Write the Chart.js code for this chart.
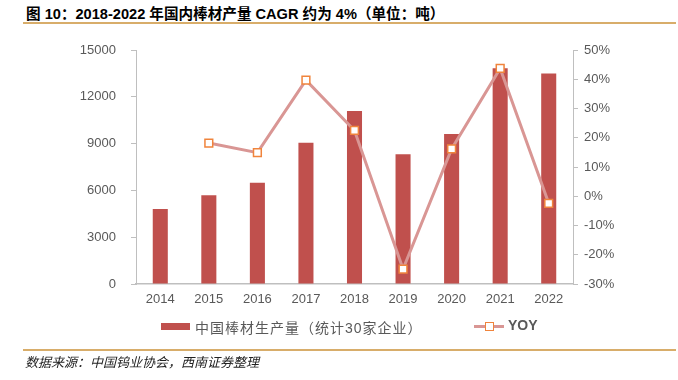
<!DOCTYPE html>
<html>
<head>
<meta charset="utf-8">
<script src="https://cdn.jsdelivr.net/npm/chart.js@4"></script>
<style>
    body { margin: 0; background: #fff; }
    #wrap { position: relative; width: 678px; height: 380px; overflow: hidden;
        font-family: "Liberation Sans", "Noto Sans CJK SC", sans-serif; }
    #chart { position: absolute; left: 0; top: 0; }
    .title { position: absolute; left: 26px; top: 2px; font-size: 14.6px; font-weight: bold;
        color: #000; white-space: nowrap; }
    .rule { position: absolute; left: 23px; width: 653px; height: 2px; background: #D8AD6A; }
    .source { position: absolute; left: 25px; top: 352px; font-size: 13px; font-style: italic;
        color: #222; font-family: "Noto Sans CJK SC", sans-serif; white-space: nowrap; }
    .legend { position: absolute; top: 317px; font-size: 14px; color: #595959; white-space: nowrap;
        font-family: "Liberation Sans", "Noto Sans CJK SC", sans-serif; }
    .swatch { position: absolute; }
</style>
</head>
<body>
<div id="wrap">
    <div class="title">图 10：2018-2022 年国内棒材产量 CAGR 约为 4%（单位：吨）</div>
    <div class="rule" style="top:22px"></div>
    <canvas id="chart" width="678" height="380"></canvas>
    <div id="legend"></div>
    <div class="rule" style="top:349px"></div>
    <div class="source">数据来源：中国钨业协会，西南证券整理</div>
</div>

<script>
const years = ["2014", "2015", "2016", "2017", "2018", "2019", "2020", "2021", "2022"];

const output = [4810, 5690, 6490, 9060, 11090, 8310, 9620, 13830, 13500];

const yoy = [null, 18.2, 14.9, 39.7, 22.5, -24.9, 16.2, 43.7, -2.4];

const outputLabel = "中国棒材生产量（统计30家企业）";
const yoyLabel = "YOY";

const barColor = "#C0504D";
const lineColor = "#D99694";
const markerColor = "#F0843C";
const axisColor = "#BFBFBF";
const textColor = "#595959";

const tickFont = { family: "Liberation Sans", size: 13 };

new Chart(
    document.getElementById("chart"),
    {
        data: {
            labels: years,
            datasets: [
                {
                    type: "line",
                    label: yoyLabel,
                    data: yoy,
                    yAxisID: "y1",
                    order: 0,
                    borderColor: lineColor,
                    borderWidth: 3,
                    tension: 0,
                    pointStyle: "rect",
                    pointRadius: 5.5,
                    pointBorderWidth: 1.5,
                    pointBackgroundColor: "#fff",
                    pointBorderColor: markerColor
                },
                {
                    type: "bar",
                    label: outputLabel,
                    data: output,
                    yAxisID: "y",
                    order: 1,
                    backgroundColor: barColor,
                    categoryPercentage: 1,
                    barPercentage: 0.31
                }
            ]
        },
        options: {
            responsive: false,
            animation: false,
            layout: { padding: { top: 50, right: 0, bottom: 0, left: 0 } },
            plugins: {
                legend: { display: false },
                tooltip: { enabled: false }
            },
            scales: {
                x: {
                    grid: { display: false, drawTicks: false },
                    border: { color: axisColor, width: 1.5 },
                    ticks: { color: textColor, font: tickFont, padding: 8 },
                    afterFit: scale => { scale.height = 96; }
                },
                y: {
                    position: "left",
                    min: 0,
                    max: 15000,
                    grid: { drawOnChartArea: false, tickLength: 5, color: axisColor },
                    border: { color: axisColor, width: 1 },
                    ticks: {
                        stepSize: 3000,
                        color: textColor,
                        font: tickFont,
                        padding: 15,
                        callback: v => String(v)
                    },
                    afterFit: scale => { scale.width = 136; }
                },
                y1: {
                    position: "right",
                    min: -30,
                    max: 50,
                    grid: { drawOnChartArea: false, tickLength: 5, color: axisColor },
                    border: { color: axisColor, width: 1 },
                    ticks: {
                        stepSize: 10,
                        color: textColor,
                        font: tickFont,
                        padding: 6,
                        callback: v => v + "%"
                    },
                    afterFit: scale => { scale.width = 105; }
                }
            }
        }
    }
);

// legend, built from the dataset labels and colours
const legend = document.getElementById("legend");
legend.innerHTML = `
    <div class="legend" style="left:161px">
        <span class="swatch" style="left:0;top:6px;width:29px;height:7px;background:${barColor}"></span>
        <span style="position:absolute;left:34px;top:0;letter-spacing:1px">${outputLabel}</span>
    </div>
    <div class="legend" style="left:474px">
        <span class="swatch" style="left:0;top:8px;width:30px;height:3px;background:${lineColor}"></span>
        <span class="swatch" style="left:11px;top:5px;width:7px;height:7px;background:#fff;border:1.5px solid ${markerColor}"></span>
        <span style="position:absolute;left:34px;top:0;font-weight:bold">${yoyLabel}</span>
    </div>
`;
</script>
</body>
</html>
